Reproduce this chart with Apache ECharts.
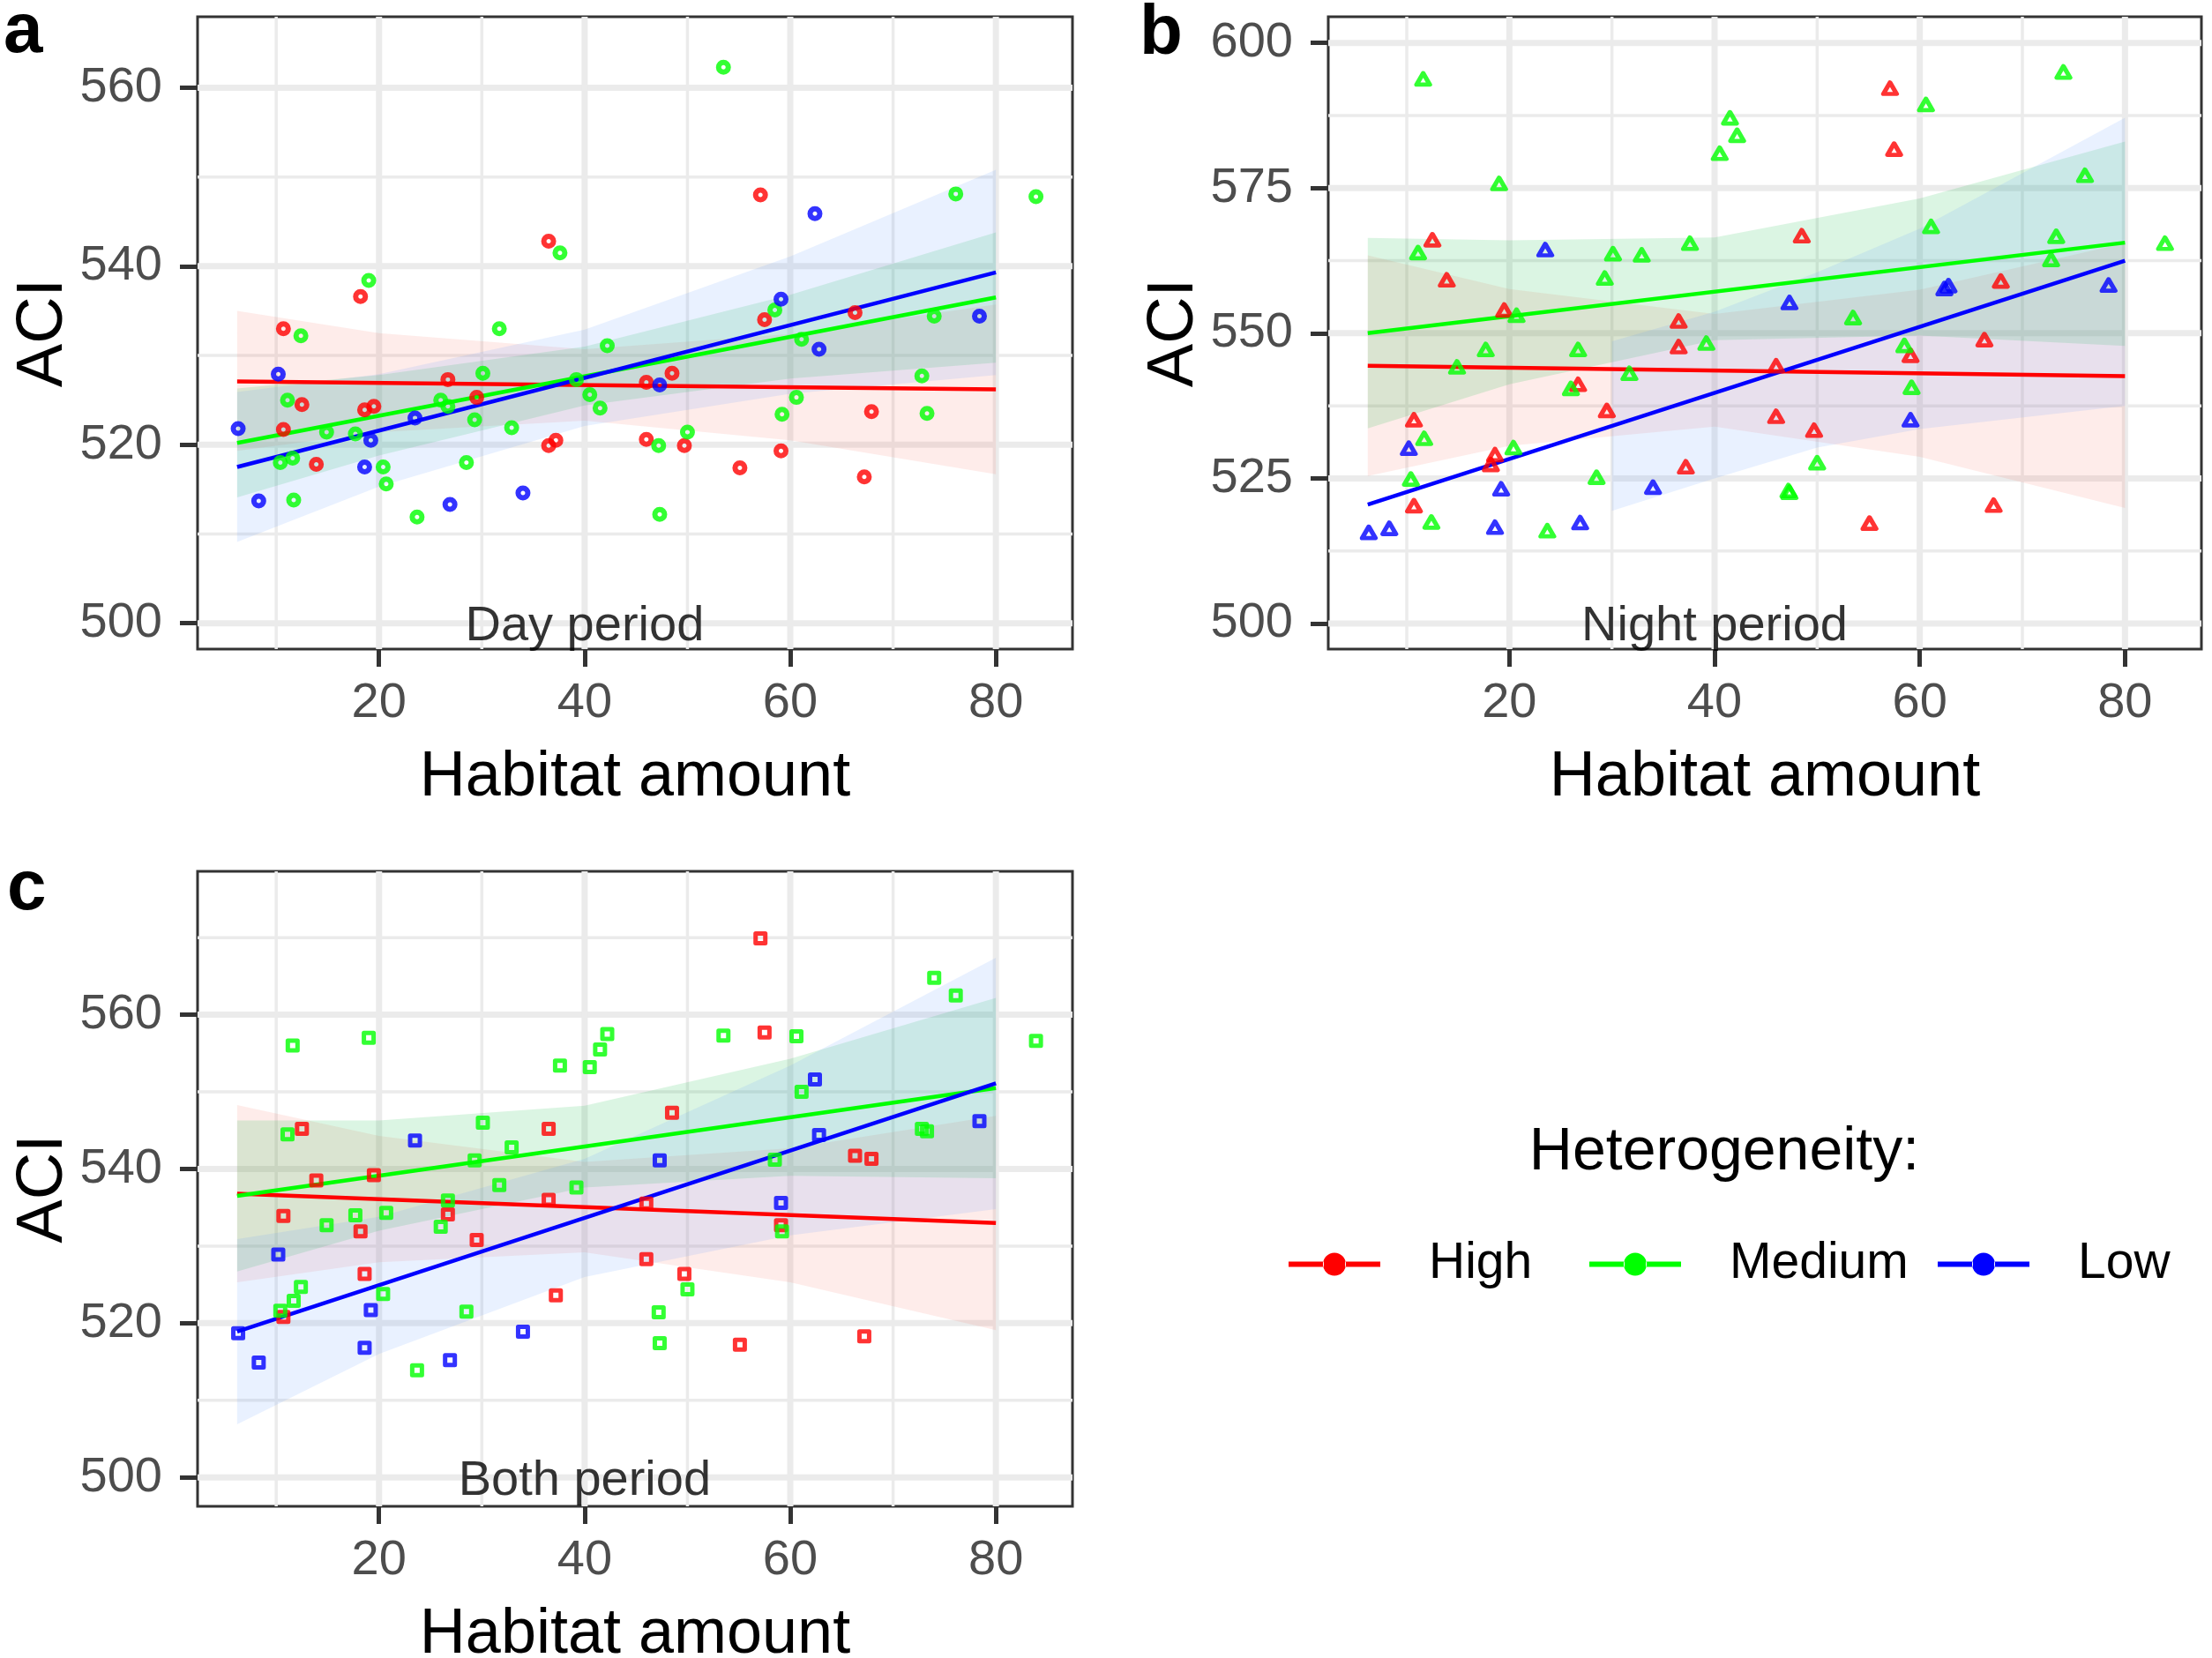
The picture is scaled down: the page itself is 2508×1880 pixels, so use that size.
<!DOCTYPE html>
<html>
<head>
<meta charset="utf-8">
<title>ACI vs habitat amount</title>
<script src="https://cdn.jsdelivr.net/npm/echarts@6/dist/echarts.min.js"></script>
<style>
  html, body { margin: 0; padding: 0; background: #fff; }
  #chart { width: 2508px; height: 1880px; }
</style>
</head>
<body>
<div id="chart"></div>
<script>
// ------------------------------------------------------------
// Data
// ------------------------------------------------------------

// habitat amount of each site, per heterogeneity class
var xHigh = [10.7, 10.7, 12.5, 13.9, 18.2, 18.6, 19.5, 26.7, 29.5, 36.5, 36.5, 37.2, 46.0, 46.0, 48.5, 49.7, 55.1, 57.1, 57.5, 59.1, 66.3, 67.2, 67.9];
var xMedium = [10.4, 11.1, 11.6, 11.7, 12.4, 14.9, 17.7, 19.0, 20.4, 20.7, 23.7, 26.0, 26.7, 28.5, 29.3, 30.1, 31.7, 32.9, 37.6, 39.2, 40.5, 41.5, 42.2, 47.2, 47.3, 50.0, 53.5, 58.5, 59.2, 60.6, 61.1, 72.8, 73.3, 74.0, 76.1, 83.9];
var xLow = [6.3, 8.3, 10.2, 18.6, 19.2, 23.5, 26.9, 34.0, 47.3, 59.1, 62.4, 62.8, 78.4];

// ACI, day period
var dayHigh = [533.0, 521.7, 524.5, 517.8, 536.6, 523.9, 524.3, 527.3, 525.3, 542.8, 519.9, 520.5, 527.0, 520.6, 528.0, 519.9, 517.4, 548.0, 534.0, 519.3, 534.8, 516.4, 523.7];
var dayMedium = [518.0, 525.0, 518.5, 513.8, 532.2, 521.4, 521.2, 538.4, 517.5, 515.6, 511.9, 525.0, 524.3, 518.0, 522.8, 528.0, 533.0, 521.9, 541.5, 527.3, 525.6, 524.1, 531.1, 519.9, 512.2, 521.4, 562.3, 535.1, 523.4, 525.3, 531.8, 527.7, 523.5, 534.4, 548.1, 547.8];
var dayLow = [521.8, 513.7, 527.9, 517.5, 520.5, 523.0, 513.3, 514.6, 526.7, 536.3, 545.9, 530.7, 534.4];

// ACI, night period
var nightHigh = [535.1, 520.3, 566.1, 559.2, 527.4, 529.1, 554.0, 541.2, 536.7, 547.7, 552.1, 527.0, 544.4, 535.7, 566.8, 533.3, 517.3, 592.2, 581.7, 546.2, 548.9, 520.4, 559.0];
var nightMedium = [524.9, 563.9, 593.8, 531.9, 517.5, 544.2, 547.2, 575.8, 530.3, 553.1, 516.0, 540.5, 547.2, 525.2, 559.5, 563.7, 543.1, 563.5, 565.5, 548.3, 581.0, 587.1, 584.1, 522.9, 522.6, 527.7, 552.7, 547.9, 540.7, 589.4, 568.4, 562.7, 566.7, 595.0, 577.2, 565.5];
var nightLow = [515.7, 516.4, 530.2, 516.6, 523.2, 564.4, 517.4, 523.5, 555.3, 535.1, 557.7, 558.2, 558.3];

// ACI, both periods
var bothHigh = [533.9, 520.8, 545.2, 538.5, 531.9, 526.4, 539.2, 534.1, 530.8, 545.2, 536.0, 523.6, 535.5, 528.3, 547.3, 526.4, 517.2, 569.9, 557.7, 532.7, 541.7, 518.3, 541.3];
var bothMedium = [521.6, 544.5, 556.0, 522.9, 524.7, 532.7, 534.0, 557.0, 523.8, 534.3, 513.9, 532.5, 535.9, 521.5, 541.1, 546.0, 537.9, 542.8, 553.4, 537.6, 553.2, 555.5, 557.5, 521.4, 517.4, 524.4, 557.3, 541.2, 531.9, 557.2, 550.0, 545.2, 544.9, 564.8, 562.5, 556.6];
var bothLow = [518.7, 514.9, 528.9, 516.8, 521.7, 543.7, 515.2, 518.9, 541.1, 535.6, 551.6, 544.4, 546.2];

// fitted lines (end points)
var fitX = [6.2, 80];
var dayFitHigh = [527.1, 526.2], dayFitMedium = [520.2, 536.5], dayFitLow = [517.5, 539.3];
var nightFitHigh = [544.4, 542.6], nightFitMedium = [550.0, 565.6], nightFitLow = [520.5, 562.5];
var bothFitHigh = [536.8, 533.0], bothFitMedium = [536.5, 550.5], bothFitLow = [518.9, 551.1];

// confidence bands: x positions, lower edge, upper edge
var bandX = [6.2, 20, 40, 60, 80];
var dayBandHighLo = [519.3, 521.4, 522.7, 520.5, 516.7], dayBandHighHi = [535.0, 532.5, 530.7, 532.4, 535.7];
var dayBandMediumLo = [514.1, 518.8, 524.4, 527.4, 529.2], dayBandMediumHi = [526.3, 527.8, 531.0, 536.8, 543.8];
var dayBandLowLo = [509.1, 515.3, 522.1, 525.7, 527.8], dayBandLowHi = [525.9, 527.9, 532.9, 541.1, 550.8];
var nightBandHighLo = [525.4, 530.6, 533.9, 528.7, 519.9], nightBandHighHi = [563.4, 557.6, 553.3, 557.5, 565.5];
var nightBandMediumLo = [533.6, 541.2, 548.8, 549.6, 547.8], nightBandMediumHi = [566.4, 566.0, 566.5, 573.2, 583.0];
var nightBandLowX = [30, 40, 50, 60, 80];
var nightBandLowLo = [519.4, 525.0, 530.3, 533.5, 537.5], nightBandLowHi = [548.6, 553.7, 560.5, 568.0, 587.1];
var bothBandHighLo = [525.3, 527.9, 529.2, 525.3, 519.1], bothBandHighHi = [548.3, 544.3, 540.9, 542.7, 546.9];
var bothBandMediumLo = [526.7, 532.0, 537.6, 539.1, 538.8], bothBandMediumHi = [546.3, 546.3, 548.2, 554.3, 562.2];
var bothBandLowLo = [506.9, 516.0, 526.0, 531.4, 534.8], bothBandLowHi = [530.9, 533.8, 541.3, 553.4, 567.4];

// axis ticks
var xMajor = [20, 40, 60, 80];
var xMinor = [10, 30, 50, 70];
var yMajorDay = [500, 520, 540, 560], yMinorDay = [510, 530, 550];
var yMajorNight = [500, 525, 550, 575, 600], yMinorNight = [512.5, 537.5, 562.5, 587.5];
var yMajorBoth = [500, 520, 540, 560], yMinorBoth = [510, 530, 550, 570];

var groups = ['High', 'Medium', 'Low'];

// ------------------------------------------------------------
// Styling / layout
// ------------------------------------------------------------
var FONT = 'Liberation Sans, Arial, Helvetica, sans-serif';
var colors = { High: '#ff0000', Medium: '#00ff00', Low: '#0000ff' };
var bandFill = { High: 'rgba(248,118,109,0.14)', Medium: 'rgba(0,186,56,0.14)', Low: 'rgba(97,156,255,0.14)' };
var X_MIN = 2.35, X_MAX = 87.45;

var panels = [
    {
        grid: { left: 224, top: 19, width: 992, height: 717 },
        yMin: 497.1, yMax: 567.95, yMajor: yMajorDay, yMinor: yMinorDay,
        text: 'Day period', symbol: 'circle', size: 11, border: 6, nameGap: 135,
        y: { High: dayHigh, Medium: dayMedium, Low: dayLow },
        fit: { High: dayFitHigh, Medium: dayFitMedium, Low: dayFitLow },
        bx: { High: bandX, Medium: bandX, Low: bandX },
        lo: { High: dayBandHighLo, Medium: dayBandMediumLo, Low: dayBandLowLo },
        hi: { High: dayBandHighHi, Medium: dayBandMediumHi, Low: dayBandLowHi }
    },
    {
        grid: { left: 1506, top: 19, width: 990, height: 717 },
        yMin: 495.6, yMax: 604.5, yMajor: yMajorNight, yMinor: yMinorNight,
        text: 'Night period', symbol: 'triangle', size: [15, 13], border: 5, nameGap: 137,
        y: { High: nightHigh, Medium: nightMedium, Low: nightLow },
        fit: { High: nightFitHigh, Medium: nightFitMedium, Low: nightFitLow },
        bx: { High: bandX, Medium: bandX, Low: nightBandLowX },
        lo: { High: nightBandHighLo, Medium: nightBandMediumLo, Low: nightBandLowLo },
        hi: { High: nightBandHighHi, Medium: nightBandMediumHi, Low: nightBandLowHi }
    },
    {
        grid: { left: 224, top: 988, width: 992, height: 720 },
        yMin: 496.25, yMax: 578.6, yMajor: yMajorBoth, yMinor: yMinorBoth,
        text: 'Both period', symbol: 'rect', size: 11, border: 5, nameGap: 135,
        y: { High: bothHigh, Medium: bothMedium, Low: bothLow },
        fit: { High: bothFitHigh, Medium: bothFitMedium, Low: bothFitLow },
        bx: { High: bandX, Medium: bandX, Low: bandX },
        lo: { High: bothBandHighLo, Medium: bothBandMediumLo, Low: bothBandLowLo },
        hi: { High: bothBandHighHi, Medium: bothBandMediumHi, Low: bothBandLowHi }
    }
];
var xByGroup = { High: xHigh, Medium: xMedium, Low: xLow };

function pairs(xs, ys) {
    return xs.map(function (x, i) { return [x, ys[i]]; });
}

// ggplot-like background grid (major + minor lines)
function gridLineSeries(gi, p) {
    var items = [];
    p.yMajor.forEach(function (v) { items.push([X_MIN, v, 0]); });
    p.yMinor.forEach(function (v) { items.push([X_MIN, v, 1]); });
    xMajor.forEach(function (v) { items.push([v, p.yMin, 2]); });
    xMinor.forEach(function (v) { items.push([v, p.yMin, 3]); });
    return {
        type: 'custom', xAxisIndex: gi, yAxisIndex: gi, silent: true, z: 1,
        data: items,
        renderItem: function (params, api) {
            var kind = api.value(2), a, b;
            if (kind < 2) {
                a = api.coord([X_MIN, api.value(1)]);
                b = api.coord([X_MAX, api.value(1)]);
            } else {
                a = api.coord([api.value(0), p.yMin]);
                b = api.coord([api.value(0), p.yMax]);
            }
            return {
                type: 'line',
                shape: { x1: a[0], y1: a[1], x2: b[0], y2: b[1] },
                style: { stroke: '#ebebeb', lineWidth: kind % 2 ? 3.5 : 7 }
            };
        }
    };
}

// confidence ribbon drawn as one polygon
function bandSeries(gi, xs, lo, hi, fill) {
    return {
        type: 'custom', xAxisIndex: gi, yAxisIndex: gi, silent: true, z: 2,
        data: [[xs[2], lo[2]]],
        renderItem: function (params, api) {
            var top = xs.map(function (x, i) { return api.coord([x, hi[i]]); });
            var bottom = xs.map(function (x, i) { return api.coord([x, lo[i]]); }).reverse();
            return {
                type: 'polygon',
                shape: { points: top.concat(bottom) },
                style: { fill: fill }
            };
        }
    };
}

var grids = [], xAxes = [], yAxes = [], series = [];
var tickStyle = { show: true, length: 20, lineStyle: { color: '#333', width: 5 } };

panels.forEach(function (p, gi) {
    // outerBoundsMode 'none': keep the plot boxes exactly where they are placed
    grids.push(Object.assign({
        show: true, borderColor: '#333', borderWidth: 3, backgroundColor: '#fff',
        containLabel: false, outerBoundsMode: 'none'
    }, p.grid));

    xAxes.push({
        gridIndex: gi, type: 'value', min: X_MIN, max: X_MAX,
        splitLine: { show: false },
        axisLine: { show: false },
        axisTick: Object.assign({ customValues: xMajor }, tickStyle),
        axisLabel: { customValues: xMajor, fontSize: 56, color: '#4d4d4d', margin: 34, fontFamily: FONT },
        name: 'Habitat amount', nameLocation: 'middle', nameGap: 110,
        nameTextStyle: { fontSize: 72, color: '#000', fontFamily: FONT }
    });

    yAxes.push({
        gridIndex: gi, type: 'value', min: p.yMin, max: p.yMax,
        splitLine: { show: false },
        axisLine: { show: false },
        axisTick: Object.assign({ customValues: p.yMajor }, tickStyle),
        axisLabel: { customValues: p.yMajor, fontSize: 56, color: '#4d4d4d', margin: 40, fontFamily: FONT },
        name: 'ACI', nameLocation: 'middle', nameRotate: 90, nameGap: p.nameGap,
        nameTextStyle: { fontSize: 74, color: '#000', fontFamily: FONT }
    });

    series.push(gridLineSeries(gi, p));

    // points
    groups.forEach(function (g) {
        series.push({
            type: 'scatter', xAxisIndex: gi, yAxisIndex: gi, z: 2,
            data: pairs(xByGroup[g], p.y[g]),
            symbol: p.symbol, symbolSize: p.size,
            itemStyle: { color: 'rgba(255,255,255,0)', borderColor: colors[g], borderWidth: p.border, borderJoin: 'round' },
            silent: true
        });
    });

    // ribbons + fitted lines, one group after the other (as ggplot layers them)
    groups.forEach(function (g) {
        series.push(bandSeries(gi, p.bx[g], p.lo[g], p.hi[g], bandFill[g]));
        series.push({
            name: g, type: 'line', xAxisIndex: gi, yAxisIndex: gi, z: 2,
            data: pairs(fitX, p.fit[g]),
            showSymbol: false, symbol: 'none',
            color: colors[g], itemStyle: { color: colors[g] },
            lineStyle: { color: colors[g], width: 4.5 },
            silent: true
        });
    });

    // period annotation at (40, 500)
    series.push({
        type: 'scatter', xAxisIndex: gi, yAxisIndex: gi, z: 5, silent: true,
        data: [[40, 500]], symbolSize: 1,
        itemStyle: { color: 'rgba(0,0,0,0)' },
        label: { show: true, position: 'inside', offset: [0, 4], formatter: p.text, fontSize: 56, color: '#000', fontFamily: FONT }
    });
});

// legend key: line with a dot in the middle
var legendIcon = 'path://M0,10h40v6h-40z M64,10h40v6h-40z M39,13a13,13 0 1,0 26,0a13,13 0 1,0 -26,0z';
var legendLeft = [1456, 1797, 2192];
var legends = groups.map(function (g, i) {
    return {
        data: [g], left: legendLeft[i], top: 1400, orient: 'horizontal',
        icon: legendIcon, itemWidth: 104, itemHeight: 26, selectedMode: false,
        textStyle: { fontSize: 57, color: '#000', fontFamily: FONT, padding: [0, 0, 0, 50] }
    };
});

function tag(txt, x, y) {
    return {
        type: 'text', x: x, y: y, silent: true,
        style: { text: txt, fontSize: 80, fontWeight: 'bold', fontFamily: FONT, fill: '#000', align: 'left', verticalAlign: 'middle' }
    };
}

var chart = echarts.init(document.getElementById('chart'));
chart.setOption({
    animation: false,
    backgroundColor: '#fff',
    textStyle: { fontFamily: FONT },
    grid: grids,
    xAxis: xAxes,
    yAxis: yAxes,
    legend: legends,
    graphic: [
        tag('a', 4, 37),
        tag('b', 1292, 39),
        tag('c', 8, 1009),
        {
            type: 'text', x: 1955, y: 1307, silent: true,
            style: { text: 'Heterogeneity:', fontSize: 68, fontFamily: FONT, fill: '#000', align: 'center', verticalAlign: 'middle' }
        }
    ],
    series: series
});

window.addEventListener('resize', function () {
    chart.resize();
});
</script>
</body>
</html>
